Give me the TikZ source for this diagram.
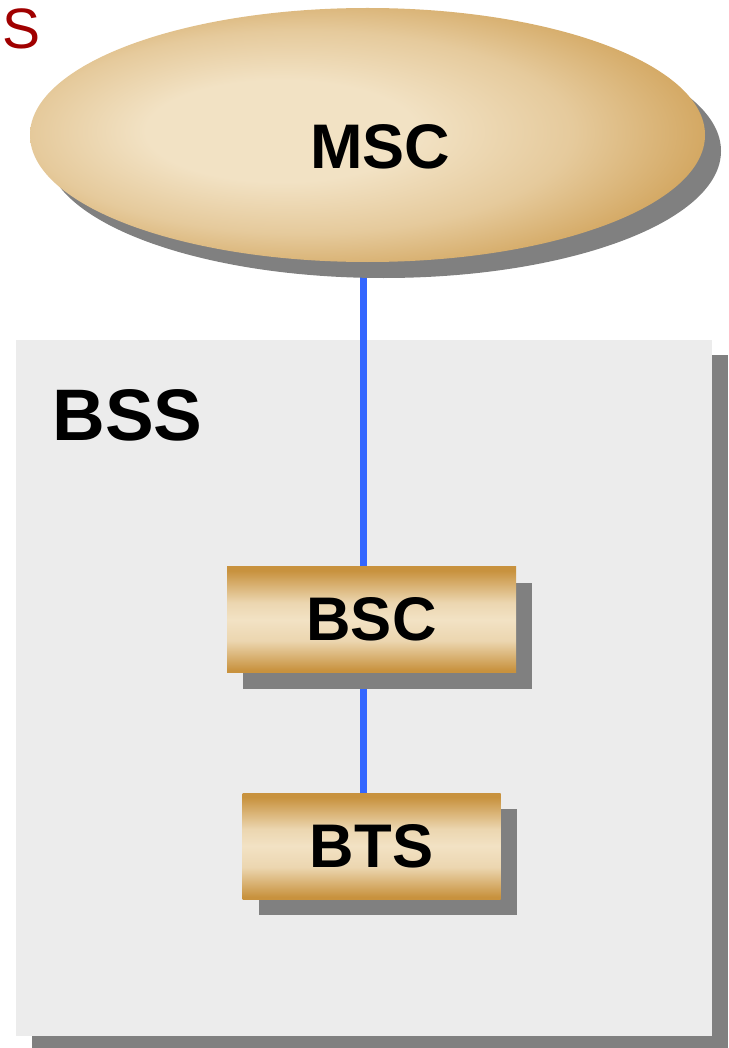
\documentclass[tikz,border=0pt]{standalone}
\usepackage{fontspec}
\setmainfont{Liberation Sans}
\usepackage{tikz}
\usetikzlibrary{shapes.geometric,shadows,backgrounds}

\definecolor{tan}{RGB}{200,146,62}
\definecolor{sand}{RGB}{242,226,196}
\definecolor{shadowgray}{RGB}{128,128,128}
\definecolor{linkblue}{RGB}{51,102,255}
\definecolor{panelgray}{RGB}{236,236,236}
\definecolor{darkred}{RGB}{160,0,0}

\pgfdeclareradialshading{mscshade}{\pgfpoint{-8bp}{1bp}}{color(0bp)=(sand); color(10bp)=(sand); color(20bp)=(sand!70!tan); color(30bp)=(sand!20!tan); color(50bp)=(tan)}
\pgfdeclareverticalshading{unitshade}{100bp}{color(0bp)=(tan); color(26bp)=(tan); color(40bp)=(sand!85!tan); color(50bp)=(sand); color(58bp)=(sand!85!tan); color(73bp)=(tan); color(100bp)=(tan)}

\tikzset{
    unit/.style={rectangle, inner sep=0pt, minimum width=144.5pt, minimum height=53pt,
        shading=unitshade,
        drop shadow={shadow xshift=8pt, shadow yshift=-8pt, fill=shadowgray, opacity=1},
        font=\fontsize{30.8}{34}\selectfont\bfseries},
    cloud/.style={ellipse, inner sep=0pt, minimum width=337.5pt, minimum height=127pt,
        shading=mscshade,
        drop shadow={shadow xshift=8pt, shadow yshift=-8pt, fill=shadowgray, opacity=1}},
    link/.style={linkblue, line width=3.5pt}
}

\begin{document}
\begin{tikzpicture}[x=0.5pt, y=-0.5pt]
    \useasboundingbox (0, 0) rectangle (728, 1048);

    \node[cloud] (msc) at (367.5, 135) {};
    \node[font=\fontsize{31.5}{34}\selectfont\bfseries] (msclabel) at ([shift={(12.5, 12)}]msc.center) {MSC};

    \node[unit] (bsc) at (371.5, 619.5) {BSC};
    \node[unit, minimum width=129pt] (bts) at (371.5, 846) {BTS};

    \node[anchor=base west, inner sep=0pt, font=\fontsize{36.5}{40}\selectfont\bfseries] (bss) at (52, 440) {BSS};
    \node[anchor=base west, inner sep=0pt, text=darkred, font=\fontsize{28.5}{32}\selectfont] (s) at (2, 49) {S};

    \begin{scope}[on background layer]
        \fill[shadowgray] (32, 355) rectangle (728, 1048);
        \fill[panelgray] (16, 340) rectangle (712, 1036);
        \draw[link] ([xshift=-2.25pt]msc.south) -- ([xshift=-4.25pt]bsc.north);
        \draw[link] ([xshift=-4.25pt]bsc.south) -- ([xshift=-4.25pt]bts.north);
    \end{scope}
\end{tikzpicture}
\end{document}
